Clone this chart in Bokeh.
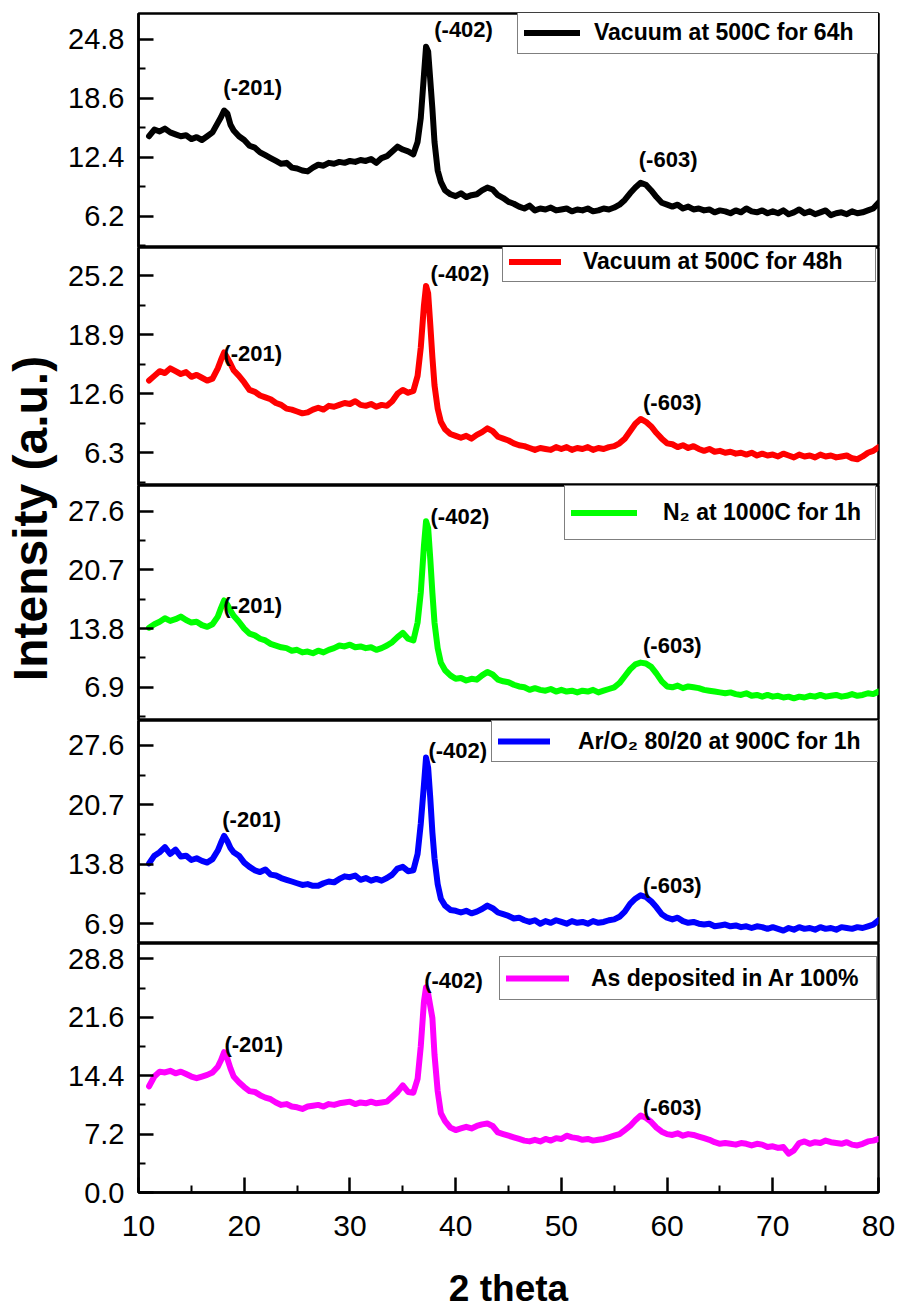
import math
from bokeh.plotting import figure
from bokeh.models import Range1d, FixedTicker, PrintfTickFormatter, Legend, LegendItem, Label
from bokeh.layouts import row, column
from bokeh.embed import file_html
from bokeh.resources import INLINE
from bokeh.core.properties import value

FONT = "Liberation Sans"

# ---------------- data ----------------
TWO_THETA = [
    11.0, 11.5, 12.0, 12.5, 13.0, 13.5, 14.0, 14.5, 15.0, 15.5, 16.0, 16.5, 17.0, 17.5,
    17.8, 18.1, 18.4, 18.7,
    19.0, 19.5, 20.0, 20.5, 21.0, 21.5, 22.0, 22.5, 23.0, 23.5, 24.0, 24.5, 25.0, 25.5,
    26.0, 26.5, 27.0, 27.5, 28.0, 28.5, 29.0, 29.5, 30.0, 30.5, 31.0, 31.5, 32.0, 32.5,
    33.0, 33.5, 34.0, 34.5, 35.0, 35.5, 36.0,
    36.4, 36.7, 37.0, 37.2, 37.4, 37.6, 37.8, 38.0, 38.3, 38.6,
    39.0, 39.5, 40.0, 40.5, 41.0, 41.5, 42.0, 42.5, 43.0, 43.5, 44.0, 44.5, 45.0, 45.5,
    46.0, 46.5, 47.0, 47.5, 48.0, 48.5, 49.0, 49.5,
    50.0, 50.5, 51.0, 51.5, 52.0, 52.5, 53.0, 53.5, 54.0, 54.5, 55.0, 55.5, 56.0, 56.5,
    57.0, 57.5, 58.0, 58.5, 59.0, 59.5,
    60.0, 60.5, 61.0, 61.5, 62.0, 62.5, 63.0, 63.5, 64.0, 64.5, 65.0, 65.5, 66.0, 66.5,
    67.0, 67.5, 68.0, 68.5, 69.0, 69.5,
    70.0, 70.5, 71.0, 71.5, 72.0, 72.5, 73.0, 73.5, 74.0, 74.5, 75.0, 75.5, 76.0, 76.5,
    77.0, 77.5, 78.0, 78.5, 79.0, 79.5, 80.0,
]

VACUUM_64H = [
    14.6, 15.3, 15.1, 15.4, 15.0, 14.8, 14.6, 14.7, 14.3, 14.5, 14.2, 14.6, 15.0, 16.0,
    16.6, 17.3, 17.0, 15.8,
    15.2, 14.6, 14.2, 13.6, 13.4, 12.9, 12.6, 12.3, 12.0, 11.7, 11.8, 11.3, 11.2, 11.0,
    10.9, 11.3, 11.6, 11.5, 11.8, 11.7, 11.9, 11.8, 12.0, 11.9, 12.1, 12.0, 12.2, 11.8,
    12.3, 12.5, 13.0, 13.5, 13.2, 13.0, 12.7,
    14.0, 16.5, 21.0, 24.0, 23.5, 20.5, 17.5, 14.0, 11.0, 9.8,
    8.9, 8.5, 8.3, 8.6, 8.2, 8.4, 8.5, 8.9, 9.2, 9.0, 8.4, 8.1, 7.7, 7.5,
    7.2, 7.0, 7.3, 6.8, 7.0, 6.9, 7.1, 6.8,
    6.9, 7.0, 6.7, 6.9, 6.8, 7.0, 6.7, 6.8, 7.0, 6.9, 7.1, 7.4, 7.9, 8.6,
    9.2, 9.7, 9.5, 8.9, 8.2, 7.6,
    7.4, 7.2, 7.4, 7.0, 7.2, 6.9, 7.0, 6.8, 6.9, 6.6, 6.8, 6.7, 6.5, 6.8,
    6.6, 7.0, 6.7, 6.6, 6.8, 6.5,
    6.7, 6.5, 6.8, 6.4, 6.6, 6.9, 6.5, 6.7, 6.4, 6.6, 6.8, 6.3, 6.5, 6.6,
    6.4, 6.7, 6.5, 6.6, 6.8, 7.0, 7.6,
]

VACUUM_48H = [
    14.0, 14.5, 15.0, 14.8, 15.3, 15.0, 14.7, 14.9, 14.4, 14.6, 14.3, 14.0, 14.2, 15.3,
    16.2, 17.0, 16.4, 15.8,
    15.1, 14.5, 13.8, 13.0, 12.8, 12.4, 12.2, 12.0, 11.6, 11.4, 11.0, 10.9, 10.7, 10.5,
    10.6, 10.9, 11.1, 10.9, 11.3, 11.2, 11.4, 11.6, 11.5, 11.8, 11.4, 11.3, 11.5, 11.2,
    11.4, 11.3, 11.8, 12.6, 13.0, 12.7, 12.9,
    14.5, 17.5, 22.0, 24.1, 23.3, 20.0, 16.5, 13.5, 11.0, 9.6,
    8.8, 8.3, 8.1, 7.9, 8.1, 7.8, 8.2, 8.5, 8.9, 8.6, 8.0, 7.8, 7.6, 7.3,
    7.1, 7.0, 6.8, 6.6, 6.8, 6.7, 6.6, 6.9,
    6.7, 6.9, 6.6, 6.8, 6.7, 6.9, 6.6, 6.8, 6.7, 6.9, 7.0, 7.3, 7.8, 8.6,
    9.4, 9.9, 9.6, 9.1, 8.4, 7.8,
    7.3, 7.2, 6.9, 7.1, 6.8, 7.0, 6.7, 6.5, 6.7, 6.4, 6.5, 6.3, 6.4, 6.2,
    6.3, 6.1, 6.3, 6.0, 6.2, 6.0,
    6.1, 5.9, 6.2, 6.0, 5.8, 6.1, 5.9, 6.0, 5.8, 6.1, 5.9, 6.0, 5.8, 5.9,
    6.0, 5.7, 5.6, 5.9, 6.3, 6.5, 6.9,
]

N2_1000C = [
    13.9, 14.3, 14.6, 15.0, 14.7, 14.9, 15.2, 14.8, 14.5, 14.6, 14.2, 14.0, 14.3, 15.2,
    16.2, 17.1, 16.6, 15.9,
    15.3, 14.6, 13.8, 13.2, 13.0, 12.6, 12.4, 12.0, 11.8, 11.6, 11.5, 11.2, 11.3, 11.0,
    11.1, 10.9, 11.2, 11.0, 11.3, 11.5, 11.8, 11.7, 11.9, 11.6, 11.7, 11.5, 11.6, 11.3,
    11.5, 11.8, 12.2, 12.8, 13.3, 12.6, 12.4,
    14.5, 18.0, 23.5, 26.4, 25.6, 22.0, 18.0, 14.5, 11.5, 9.8,
    8.9, 8.3, 7.9, 8.0, 7.7, 7.9, 7.8, 8.3, 8.7, 8.4, 7.8, 7.6, 7.5, 7.2,
    7.0, 6.9, 6.6, 6.8, 6.6, 6.5, 6.7, 6.4,
    6.6, 6.4, 6.5, 6.3, 6.5, 6.4, 6.6, 6.3, 6.5, 6.7, 6.9, 7.4, 8.2, 9.0,
    9.6, 9.8, 9.7, 9.3, 8.5, 7.6,
    7.0, 6.9, 7.1, 6.8, 7.0, 6.9, 6.8, 6.6, 6.5, 6.4, 6.3, 6.2, 6.3, 6.1,
    6.0, 6.2, 5.9, 6.0, 5.8, 6.0,
    5.8, 5.9, 5.7, 5.8, 5.6, 5.8, 5.7, 5.9, 5.8, 6.0, 5.8, 5.9, 6.0, 5.8,
    5.9, 6.1, 5.9, 6.0, 6.2, 6.1, 6.4,
]

AR_O2_900C = [
    13.9, 14.8, 15.2, 15.8, 15.0, 15.5, 14.7, 14.8, 14.3, 14.5, 14.2, 14.0, 14.4, 15.4,
    16.3, 17.1, 16.5, 15.7,
    15.2, 14.8, 14.0, 13.5, 13.1, 12.9, 13.2, 12.6, 12.5, 12.2, 12.0, 11.8, 11.6, 11.4,
    11.5, 11.3, 11.3, 11.6, 11.8, 11.7, 12.1, 12.4, 12.3, 12.5, 12.0, 12.2, 11.9, 12.1,
    11.9, 12.2, 12.6, 13.3, 13.5, 13.0, 13.1,
    15.0, 18.5, 23.0, 26.2, 25.0, 21.5, 17.5, 14.5, 11.5, 9.8,
    9.0, 8.5, 8.4, 8.2, 8.4, 8.1, 8.3, 8.6, 9.0, 8.7, 8.2, 8.0, 7.8, 7.5,
    7.6, 7.3, 7.1, 7.3, 6.9, 7.2, 7.0, 7.3,
    7.1, 6.9, 7.2, 7.0, 7.1, 6.9, 7.2, 7.0, 7.1, 7.3, 7.4, 7.7, 8.3, 9.2,
    9.8, 10.2, 10.0, 9.5, 8.8, 8.0,
    7.6, 7.4, 7.6, 7.2, 7.0, 7.1, 6.9, 6.8, 6.9, 6.6, 6.7, 6.8, 6.6, 6.7,
    6.5, 6.6, 6.4, 6.6, 6.5, 6.3,
    6.5, 6.3, 6.1, 6.4, 6.2, 6.5, 6.3, 6.4, 6.2, 6.5, 6.3, 6.4, 6.2, 6.5,
    6.4, 6.3, 6.5, 6.4, 6.6, 6.8, 7.3,
]

AS_DEPOSITED = [
    13.1, 14.3, 14.9, 14.8, 15.0, 14.7, 14.9, 14.6, 14.3, 14.1, 14.3, 14.5, 14.8, 15.5,
    16.3, 17.3, 16.5, 15.3,
    14.3, 13.6, 13.0, 12.5, 12.4, 12.0, 11.7, 11.5, 11.1, 10.8, 10.9, 10.6, 10.5, 10.3,
    10.6, 10.7, 10.8, 10.6, 10.9, 10.8, 11.0, 11.1, 11.2, 10.9, 11.1, 11.0, 11.2, 11.0,
    11.1, 11.2, 11.8, 12.4, 13.2, 12.4, 12.3,
    14.0, 18.0, 23.5, 25.3, 24.5, 23.0, 21.5, 17.0, 12.5, 9.8,
    8.8, 8.0, 7.7, 7.9, 8.1, 7.9, 8.2, 8.4, 8.5, 8.2, 7.4, 7.2, 7.0, 6.8,
    6.6, 6.4, 6.3, 6.5, 6.3, 6.6, 6.4, 6.7,
    6.6, 7.0, 6.8, 6.7, 6.5, 6.6, 6.4, 6.5, 6.6, 6.8, 7.0, 7.2, 7.7, 8.2,
    8.9, 9.5, 9.2, 8.7, 8.0, 7.5,
    7.2, 7.1, 7.3, 7.0, 7.2, 7.1, 6.9, 6.7, 6.5, 6.2, 6.0, 6.1, 6.0, 5.9,
    6.1, 6.0, 5.8, 6.0, 5.9, 5.6,
    5.7, 5.5, 5.6, 4.8, 5.2, 6.1, 6.3, 6.0, 6.2, 6.1, 6.4, 6.2, 6.1, 6.0,
    6.2, 5.9, 5.8, 6.0, 6.3, 6.4, 6.6,
]

SERIES_LABELS = [
    "Vacuum at 500C for 64h",
    "Vacuum at 500C for 48h",
    "N\u2082 at 1000C for 1h",
    "Ar/O\u2082 80/20 at 900C for 1h",
    "As deposited in Ar 100%",
]
SERIES_COLORS = ["#000000", "#ff0000", "#00ff00", "#0000ff", "#ff00ff"]

PEAK_LABELS = ["(-201)", "(-402)", "(-603)"]
PEAK_X = [
    [20.8, 40.75, 60.1],
    [20.8, 40.4, 60.5],
    [20.8, 40.4, 60.5],
    [20.7, 40.2, 60.5],
    [20.9, 39.8, 60.5],
]
PEAK_Y = [
    [18.4, 24.5, 10.8],
    [15.6, 24.1, 10.3],
    [15.0, 25.5, 10.3],
    [17.5, 25.6, 9.9],
    [16.7, 24.6, 8.9],
]

Y_TICKS = [
    [6.2, 12.4, 18.6, 24.8],
    [6.3, 12.6, 18.9, 25.2],
    [6.9, 13.8, 20.7, 27.6],
    [6.9, 13.8, 20.7, 27.6],
    [0.0, 7.2, 14.4, 21.6, 28.8],
]
Y_MINOR = [
    [3.1, 9.3, 15.5, 21.7],
    [3.15, 9.45, 15.75, 22.05],
    [3.45, 10.35, 17.25, 24.15],
    [10.35, 17.25, 24.15],
    [3.6, 10.8, 18.0, 25.2],
]
Y_RANGES = [(2.9, 27.5), (2.8, 28.2), (3.0, 30.6), (4.6, 30.5), (0.0, 30.7)]

X_TICKS = [10, 20, 30, 40, 50, 60, 70, 80]
X_MINOR = [15, 25, 35, 45, 55, 65, 75]

SERIES = [VACUUM_64H, VACUUM_48H, N2_1000C, AR_O2_900C, AS_DEPOSITED]
for s in SERIES:
    assert len(s) == len(TWO_THETA), len(s)

# ---------------- layout ----------------
LABEL_W = 62
FRAME_LEFT = 138            # page x of plot frame left edge
FRAME_W = 740
FRAME_HEIGHTS = [234, 238, 235, 223, 249]
TOP_PAD = 13
BOTTOM_PAD = 119
# legend boxes in page px: (left, top, right, bottom), glyph width, text start
LEGEND_BOXES = [
    (517, 13, 877, 54, 56, 593),
    (502, 247, 874, 282, 52, 582),
    (564, 487, 874, 540, 66, 662),
    (491, 722, 876, 762, 52, 577),
    (499, 958, 875, 1000, 63, 590),
]
LEG_PAD = 6

x_range = Range1d(10, 80)
panels = []
frame_top = TOP_PAD
for i in range(5):
    last = i == 4
    fh = FRAME_HEIGHTS[i]
    p = figure(
        x_range=x_range, y_range=Range1d(*Y_RANGES[i]),
        frame_width=FRAME_W, frame_height=fh,
        min_border=0,
        min_border_left=FRAME_LEFT - LABEL_W, min_border_right=899 - FRAME_LEFT - FRAME_W,
        min_border_top=TOP_PAD if i == 0 else 0,
        min_border_bottom=BOTTOM_PAD if last else 0,
        x_axis_type="linear" if last else None,
        output_backend="svg", toolbar_location=None,
    )
    p.grid.visible = False
    p.outline_line_color = "black"
    p.outline_line_width = 2.5
    p.outline_line_alpha = 1.0
    p.background_fill_color = "white"
    p.border_fill_color = "white"

    ay = p.yaxis[0]
    ay.ticker = FixedTicker(ticks=Y_TICKS[i], minor_ticks=Y_MINOR[i])
    ay.formatter = PrintfTickFormatter(format="%.1f")
    ay.major_tick_in = 15
    ay.major_tick_out = 0
    ay.minor_tick_in = 7
    ay.minor_tick_out = 0
    ay.axis_line_width = 2.5
    ay.major_tick_line_width = 2.5
    ay.minor_tick_line_width = 2
    ay.major_label_text_font = FONT
    ay.major_label_text_font_size = "29px"
    ay.major_label_text_color = "black"
    ay.major_label_standoff = 14

    if last:
        ax = p.xaxis[0]
        ax.ticker = FixedTicker(ticks=X_TICKS, minor_ticks=X_MINOR)
        ax.major_tick_in = 15
        ax.major_tick_out = 0
        ax.minor_tick_in = 7
        ax.minor_tick_out = 0
        ax.axis_line_width = 2.5
        ax.major_tick_line_width = 2.5
        ax.minor_tick_line_width = 2
        ax.major_label_text_font = FONT
        ax.major_label_text_font_size = "30px"
        ax.major_label_text_color = "black"
        ax.major_label_standoff = 23
        ax.axis_label = "2 theta"
        ax.axis_label_text_font = FONT
        ax.axis_label_text_font_size = "37px"
        ax.axis_label_text_font_style = "bold"
        ax.axis_label_text_color = "black"
        ax.axis_label_standoff = 29

    r = p.line(TWO_THETA, SERIES[i], line_color=SERIES_COLORS[i], line_width=6,
               line_join="round", line_cap="round")

    p.text(x=PEAK_X[i], y=PEAK_Y[i], text=PEAK_LABELS,
           text_font=value(FONT), text_font_style="bold", text_font_size="22px",
           text_color="black", text_align="center", text_baseline="bottom")

    bl, bt, br, bb, gw, ts = LEGEND_BOXES[i]
    frame_bottom = frame_top + fh
    standoff = ts - (bl + LEG_PAD + gw)
    lab_w = (br - bl) - 2 * LEG_PAD - gw - standoff
    lab_h = (bb - bt) - 2 * LEG_PAD
    leg = Legend(
        items=[LegendItem(label=SERIES_LABELS[i], renderers=[r])],
        location=(bl - FRAME_LEFT, frame_bottom - bb),
        margin=0, padding=LEG_PAD, spacing=0,
        glyph_width=gw, glyph_height=lab_h, label_standoff=standoff,
        label_width=lab_w, label_height=lab_h,
        label_text_font=FONT, label_text_font_size="23px", label_text_font_style="bold",
        label_text_color="black",
        border_line_color="black", border_line_width=1,
        background_fill_color="white", background_fill_alpha=1.0,
    )
    p.add_layout(leg)
    panels.append(p)
    frame_top = frame_bottom

TOTAL_H = TOP_PAD + sum(FRAME_HEIGHTS) + BOTTOM_PAD
lf = figure(width=LABEL_W, height=TOTAL_H, x_axis_type=None, y_axis_type=None,
            x_range=Range1d(0, 1), y_range=Range1d(0, 1),
            min_border=0, output_backend="svg", toolbar_location=None)
lf.outline_line_color = None
lf.grid.visible = False
lf.add_layout(Label(x=30, y=TOTAL_H - 518, x_units="screen", y_units="screen",
                    text="Intensity (a.u.)", angle=math.pi / 2,
                    text_align="center", text_baseline="middle",
                    text_font=FONT, text_font_size="48px", text_font_style="bold",
                    text_color="black"))

layout = row(lf, column(*panels, spacing=0), spacing=0)
open("out.html", "w").write(file_html(layout, INLINE))
